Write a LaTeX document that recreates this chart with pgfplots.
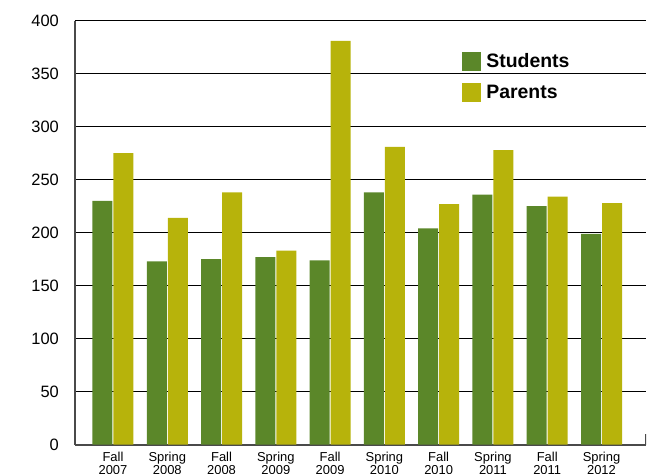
\documentclass[border=0pt]{standalone}
\usepackage{pgfplots}
\pgfplotsset{compat=1.18}
\usepackage{fontspec}
\setmainfont{Liberation Sans}
\definecolor{stud}{HTML}{5B8729}
\definecolor{par}{HTML}{B7B30B}
\definecolor{axgray}{HTML}{4A4A4A}
\begin{document}
\begin{tikzpicture}
\begin{axis}[
  at={(0,0)}, anchor=south west,
  scale only axis,
  width=571bp, height=424bp,
  xmin=-0.7, xmax=9.82,
  ymin=0, ymax=400,
  ytick={0,50,...,400},
  xtick={0,...,9},
  xticklabels={{Fall\\2007},{Spring\\2008},{Fall\\2008},{Spring\\2009},{Fall\\2009},{Spring\\2010},{Fall\\2010},{Spring\\2011},{Fall\\2011},{Spring\\2012}},
  axis lines*=left,
  axis line style={axgray, line width=1.6bp},
  major tick length=0pt,
  ymajorgrids,
  grid style={black, line width=0.8bp},
  /pgf/number format/assume math mode=true,
  yticklabel style={anchor=east, inner sep=0pt, xshift=-16bp, font=\fontsize{16.5}{19}\selectfont},
  xticklabel style={anchor=north, inner sep=0pt, yshift=-7bp, align=center, font=\fontsize{13}{13.5}\selectfont},
  ybar, bar width=20bp,
  legend style={draw=none, fill=none, at={(0.678,0.927)}, anchor=north west, inner sep=0pt, row sep=12.5bp, column sep=4bp,
    font=\fontsize{19.5}{21}\bfseries\selectfont, nodes={inner sep=1bp}},
  legend cell align=left,
  legend image code/.code={\fill[#1] (0bp,-9.5bp) rectangle (19bp,9.5bp);},
]
\addplot[fill=stud, draw=none, bar shift=-10.5bp] coordinates {
 (0,230) (1,173) (2,175) (3,177) (4,174) (5,238) (6,204) (7,236) (8,225) (9,199)};
\addlegendentry{Students}
\addplot[fill=par, draw=none, bar shift=10.5bp] coordinates {
 (0,275) (1,214) (2,238) (3,183) (4,381) (5,281) (6,227) (7,278) (8,234) (9,228)};
\addlegendentry{Parents}
\draw[axgray, line width=1.4bp] (rel axis cs:1,0) -- (rel axis cs:1,0.026);
\end{axis}
\pgfresetboundingbox
\path (-75bp,-29.3bp) rectangle (580bp,444.7bp);
\end{tikzpicture}
\end{document}
